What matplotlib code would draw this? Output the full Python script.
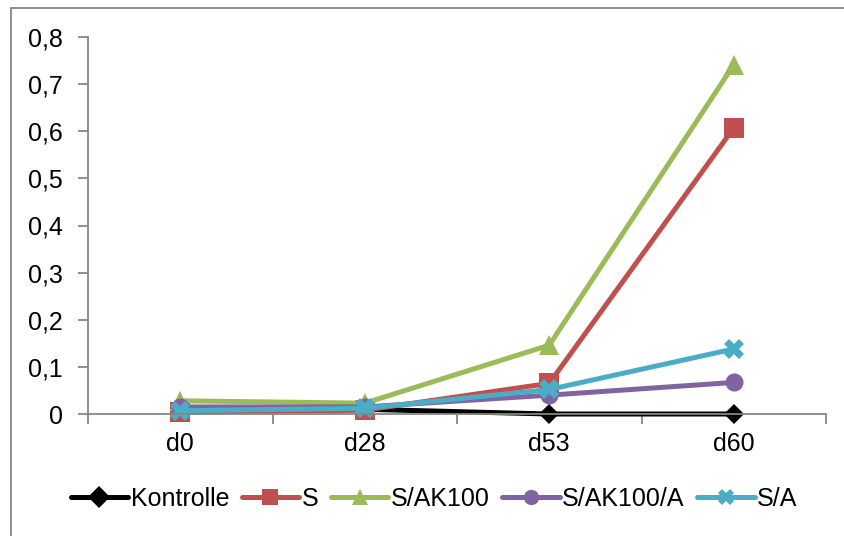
import matplotlib
matplotlib.use("Agg")
import matplotlib.pyplot as plt
from matplotlib.patches import Rectangle
from matplotlib.ticker import FuncFormatter

plt.rcParams['font.family'] = ['Liberation Sans', 'DejaVu Sans']

categories = ["d0", "d28", "d53", "d60"]
series_names = ["Kontrolle", "S", "S/AK100", "S/AK100/A", "S/A"]
kontrolle = [0.005, 0.010, 0.0, 0.0]
s_vals = [0.004, 0.008, 0.065, 0.607]
s_ak100 = [0.028, 0.023, 0.146, 0.741]
s_ak100_a = [0.015, 0.015, 0.040, 0.067]
s_a = [0.007, 0.012, 0.052, 0.138]
yticks = [0, 0.1, 0.2, 0.3, 0.4, 0.5, 0.6, 0.7, 0.8]

values = [kontrolle, s_vals, s_ak100, s_ak100_a, s_a]
colors = ["#000000", "#C0504D", "#9BBB59", "#8064A2", "#4BACC6"]
markers = ["D", "s", "^", "o", "X"]
msizes = [10, 14, 14, 13, 14]

FS = 18

fig = plt.figure(figsize=(8.44, 5.36), dpi=100)
ax = fig.add_axes([88/844, 1-414/536, (826-88)/844, (414-37)/536])

x = list(range(len(categories)))
for vals, name, c, m, ms in zip(values, series_names, colors, markers, msizes):
    ax.plot(x, vals, color=c, lw=3.6, marker=m, markersize=ms,
            markeredgewidth=0, label=name, solid_capstyle='round',
            solid_joinstyle='round', clip_on=False)

ax.set_xlim(-0.5, len(categories) - 0.5)
ax.set_ylim(0, 0.8)
ax.set_yticks(yticks)
ax.yaxis.set_major_formatter(FuncFormatter(lambda v, p: "0" if v == 0 else f"{v:.1f}".replace(".", ",")))
ax.set_xticks(x)
ax.set_xticklabels(categories)
ax.set_xticks([i - 0.5 for i in range(len(categories) + 1)], minor=True)
ax.tick_params(axis='x', which='major', length=0, labelsize=FS, pad=13)
ax.tick_params(axis='x', which='minor', length=7, color='#868686', width=1.3, direction='out')
ax.tick_params(axis='y', length=7, color='#868686', width=1.3, labelsize=FS, pad=11)
for sp in ['top', 'right']:
    ax.spines[sp].set_visible(False)
for sp in ['left', 'bottom']:
    ax.spines[sp].set_color('#868686')
    ax.spines[sp].set_linewidth(1.3)

leg = fig.legend(loc='center', bbox_to_anchor=(434/844, 1-499/536), ncol=5, frameon=False,
                 fontsize=FS, handlelength=2.3, handletextpad=0.1, columnspacing=0.5,
                 borderaxespad=0)
for h in leg.legend_handles:
    h.set_markersize(11)

fig.patches.append(Rectangle((11/844, -0.1), 1.2, 1 - 8/536 + 0.1, transform=fig.transFigure,
                             fill=False, edgecolor='#868686', lw=1.3))

fig.savefig("out.png", dpi=100)
